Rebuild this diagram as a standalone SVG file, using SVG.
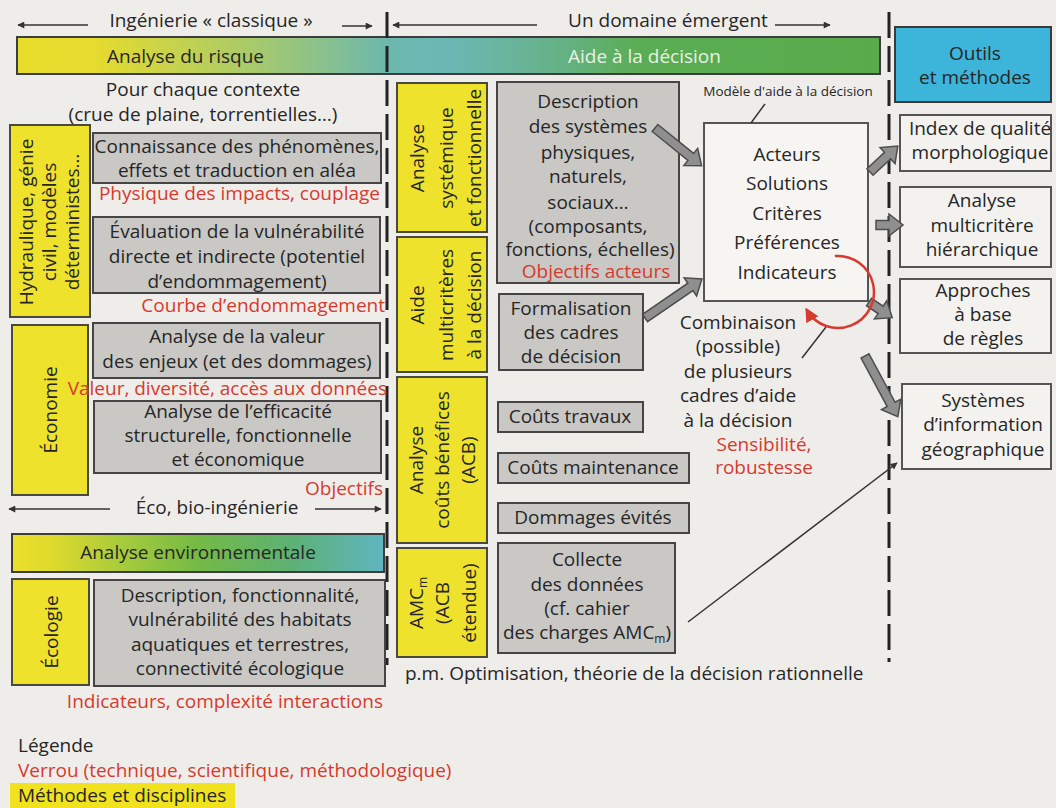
<svg xmlns="http://www.w3.org/2000/svg" width="1056" height="808" viewBox="0 0 1056 808">
<defs>
<style>
text{font-family:"Open Sans","Noto Sans","Liberation Sans",sans-serif;font-size:19px;font-weight:500;fill:#262626}
.c{text-anchor:middle}
.e{text-anchor:end}
.r{fill:#d63a2e}
.sm{font-size:13.5px}
.y{fill:#eee22c;stroke:#4a4a3c;stroke-width:2}
.g{fill:#c9c8c5;stroke:#454545;stroke-width:2}
.w{fill:#f4f2ef;stroke:#555;stroke-width:2}
.dash{stroke:#222;stroke-width:3;stroke-dasharray:26 8;fill:none}
.thin{stroke:#333;stroke-width:1.5;fill:none}
.blk{fill:#8f8f8f;stroke:#4d4d4d;stroke-width:1.5;stroke-linejoin:miter}
</style>
<marker id="ah" viewBox="0 0 10 10" refX="9" refY="5" markerWidth="9" markerHeight="7" markerUnits="userSpaceOnUse" orient="auto">
<path d="M0,0 L10,5 L0,10 z" fill="#333"/>
</marker>
<marker id="ahr" viewBox="0 0 10 10" refX="8" refY="5" markerWidth="14" markerHeight="14" markerUnits="userSpaceOnUse" orient="auto">
<path d="M0,0 L10,5 L0,10 z" fill="#d63a2e"/>
</marker>
<linearGradient id="gTop" x1="17" y1="0" x2="880" y2="0" gradientUnits="userSpaceOnUse">
<stop offset="0" stop-color="#e8dc2c"/>
<stop offset="0.09" stop-color="#e6db2e"/>
<stop offset="0.27" stop-color="#a9ca6a"/>
<stop offset="0.43" stop-color="#6db8ad"/>
<stop offset="0.5" stop-color="#6cb7b5"/>
<stop offset="0.62" stop-color="#66b28b"/>
<stop offset="0.72" stop-color="#5bad55"/>
<stop offset="1" stop-color="#58aa4a"/>
</linearGradient>
<linearGradient id="gEnv" x1="12" y1="0" x2="384" y2="0" gradientUnits="userSpaceOnUse">
<stop offset="0" stop-color="#ece02a"/>
<stop offset="0.1" stop-color="#e0da2c"/>
<stop offset="0.3" stop-color="#a6cb3c"/>
<stop offset="0.5" stop-color="#74ba45"/>
<stop offset="0.75" stop-color="#5db174"/>
<stop offset="1" stop-color="#60b5c0"/>
</linearGradient>
</defs>
<rect x="0" y="0" width="1056" height="808" fill="#efedea"/>

<!-- header -->
<g id="header">
<line class="thin" x1="88" y1="25" x2="18" y2="25" marker-end="url(#ah)"/>
<text class="c" x="211" y="27">Ingénierie « classique »</text>
<line class="thin" x1="342" y1="26" x2="372" y2="26" marker-end="url(#ah)"/>
<line class="thin" x1="537" y1="25" x2="393" y2="25" marker-end="url(#ah)"/>
<text class="c" x="668" y="27">Un domaine émergent</text>
<line class="thin" x1="775" y1="25" x2="830" y2="25" marker-end="url(#ah)"/>
</g>

<g id="bar-top">
<rect x="17" y="37" width="863" height="37" fill="url(#gTop)" stroke="#3d3d3d" stroke-width="2"/>
<text x="107" y="63">Analyse du risque</text>
<text x="568" y="63" style="fill:#e9f1e4">Aide à la décision</text>
</g>

<g id="outils">
<rect x="895" y="27" width="156" height="75" fill="#3db4da" stroke="#3a3a3a" stroke-width="2"/>
<text class="c" x="975" y="60">Outils</text>
<text class="c" x="975" y="84">et méthodes</text>
</g>

<g id="contexte">
<text class="c" x="203" y="96">Pour chaque contexte</text>
<text class="c" x="203" y="121">(crue de plaine, torrentielles…)</text>
</g>

<!-- dashed separators -->
<g id="separators">
<line class="dash" x1="387" y1="12" x2="387" y2="665"/>
<line class="dash" x1="889" y1="12" x2="889" y2="662"/>
</g>

<!-- left column -->
<g id="hydraulique">
<rect class="y" x="10" y="125" width="80" height="192"/>
<text class="c" transform="translate(33,222) rotate(-90)">Hydraulique, génie</text>
<text class="c" transform="translate(56,222) rotate(-90)">civil, modèles</text>
<text class="c" transform="translate(79,222) rotate(-90)">déterministes…</text>
</g>
<g id="connaissance">
<rect class="g" x="93" y="133" width="288" height="50"/>
<text class="c" x="237" y="153">Connaissance des phénomènes,</text>
<text class="c" x="237" y="177">effets et traduction en aléa</text>
</g>
<text class="r e" x="380" y="200">Physique des impacts, couplage</text>
<g id="evaluation">
<rect class="g" x="93" y="217" width="287" height="76"/>
<text class="c" x="237" y="238">Évaluation de la vulnérabilité</text>
<text class="c" x="237" y="263">directe et indirecte (potentiel</text>
<text class="c" x="237" y="288">d’endommagement)</text>
</g>
<text class="r e" x="385" y="312">Courbe d’endommagement</text>
<g id="economie">
<rect class="y" x="12" y="325" width="76" height="170"/>
<text class="c" transform="translate(57,410) rotate(-90)">Économie</text>
</g>
<g id="valeur">
<rect class="g" x="93" y="323" width="287" height="55"/>
<text class="c" x="237" y="343">Analyse de la valeur</text>
<text class="c" x="237" y="368">des enjeux (et des dommages)</text>
</g>
<text class="r e" x="387" y="395">Valeur, diversité, accès aux données</text>
<g id="efficacite">
<rect class="g" x="94" y="401" width="287" height="72"/>
<text class="c" x="238" y="418">Analyse de l’efficacité</text>
<text class="c" x="238" y="442">structurelle, fonctionnelle</text>
<text class="c" x="238" y="466">et économique</text>
</g>
<text class="r e" x="383" y="495">Objectifs</text>
<g id="eco-bio">
<line class="thin" x1="110" y1="509" x2="9" y2="509" marker-end="url(#ah)"/>
<text class="c" x="217" y="514">Éco, bio-ingénierie</text>
<line class="thin" x1="315" y1="509" x2="381" y2="509" marker-end="url(#ah)"/>
</g>
<g id="bar-env">
<rect x="12" y="534" width="372" height="38" fill="url(#gEnv)" stroke="#3d3d3d" stroke-width="2"/>
<text class="c" x="198" y="559">Analyse environnementale</text>
</g>
<g id="ecologie">
<rect class="y" x="12" y="579" width="77" height="106"/>
<text class="c" transform="translate(58,632) rotate(-90)">Écologie</text>
</g>
<g id="habitats">
<rect class="g" x="94" y="580" width="291" height="106"/>
<text class="c" x="240" y="602">Description, fonctionnalité,</text>
<text class="c" x="240" y="626">vulnérabilité des habitats</text>
<text class="c" x="240" y="651">aquatiques et terrestres,</text>
<text class="c" x="240" y="675">connectivité écologique</text>
</g>
<text class="r e" x="383" y="708">Indicateurs, complexité interactions</text>

<!-- middle column -->
<g id="systemique">
<rect class="y" x="397" y="83" width="90" height="149"/>
<text class="c" transform="translate(424,158) rotate(-90)">Analyse</text>
<text class="c" transform="translate(453,158) rotate(-90)">systémique</text>
<text class="c" transform="translate(481,158) rotate(-90)">et fonctionnelle</text>
</g>
<g id="multicriteres">
<rect class="y" x="397" y="237" width="90" height="135"/>
<text class="c" transform="translate(424,305) rotate(-90)">Aide</text>
<text class="c" transform="translate(453,305) rotate(-90)">multicritères</text>
<text class="c" transform="translate(481,305) rotate(-90)">à la décision</text>
</g>
<g id="acb">
<rect class="y" x="397" y="377" width="90" height="166"/>
<text class="c" transform="translate(423,460) rotate(-90)">Analyse</text>
<text class="c" transform="translate(449,460) rotate(-90)">coûts bénéfices</text>
<text class="c" transform="translate(475,460) rotate(-90)">(ACB)</text>
</g>
<g id="amcm">
<rect class="y" x="397" y="548" width="90" height="109"/>
<text class="c" transform="translate(423,603) rotate(-90)">AMC<tspan font-size="12" dy="4" fill="#262626">m</tspan></text>
<text class="c" transform="translate(449,603) rotate(-90)">(ACB</text>
<text class="c" transform="translate(476,603) rotate(-90)">étendue)</text>
</g>
<g id="description">
<rect class="g" x="497" y="82" width="182" height="201"/>
<text class="c" x="588" y="108">Description</text>
<text class="c" x="588" y="133">des systèmes</text>
<text class="c" x="588" y="159">physiques,</text>
<text class="c" x="588" y="183">naturels,</text>
<text class="c" x="588" y="209">sociaux…</text>
<text class="c" x="588" y="233">(composants,</text>
<text class="c" x="590" y="256">fonctions, échelles)</text>
<text class="c r" x="596" y="278">Objectifs acteurs</text>
</g>
<g id="formalisation">
<rect class="g" x="499" y="294" width="144" height="76"/>
<text class="c" x="571" y="315">Formalisation</text>
<text class="c" x="571" y="339">des cadres</text>
<text class="c" x="571" y="363">de décision</text>
</g>
<g id="couts-travaux">
<rect class="g" x="498" y="402" width="145" height="30"/>
<text class="c" x="570" y="423">Coûts travaux</text>
</g>
<g id="couts-maintenance">
<rect class="g" x="498" y="453" width="191" height="30"/>
<text class="c" x="593" y="474">Coûts maintenance</text>
</g>
<g id="dommages">
<rect class="g" x="498" y="503" width="191" height="30"/>
<text class="c" x="593" y="524">Dommages évités</text>
</g>
<g id="collecte">
<rect class="g" x="498" y="543" width="177" height="110"/>
<text class="c" x="587" y="566">Collecte</text>
<text class="c" x="587" y="591">des données</text>
<text class="c" x="587" y="615">(cf. cahier</text>
<text class="c" x="587" y="639">des charges AMC<tspan font-size="12" dy="4" fill="#262626">m</tspan><tspan dy="-4">)</tspan></text>
</g>
<text x="405" y="680">p.m. Optimisation, théorie de la décision rationnelle</text>

<!-- decision model -->
<g id="modele">
<text class="c sm" x="788" y="96">Modèle d'aide à la décision</text>
<rect x="704" y="123" width="164" height="178" fill="#f6f5f2" stroke="#555" stroke-width="2"/>
<text class="c" x="787" y="161">Acteurs</text>
<text class="c" x="787" y="190">Solutions</text>
<text class="c" x="787" y="220">Critères</text>
<text class="c" x="787" y="249">Préférences</text>
<text class="c" x="787" y="279">Indicateurs</text>
</g>
<g id="combinaison">
<text class="c" x="738" y="329">Combinaison</text>
<text class="c" x="738" y="353">(possible)</text>
<text class="c" x="738" y="378">de plusieurs</text>
<text class="c" x="738" y="402">cadres d’aide</text>
<text class="c" x="738" y="427">à la décision</text>
<text class="c r" x="764" y="451">Sensibilité,</text>
<text class="c r" x="764" y="474">robustesse</text>
</g>

<!-- right column -->
<g id="index">
<rect class="w" x="900" y="115" width="151" height="56"/>
<text class="c" x="980" y="135">Index de qualité</text>
<text class="c" x="980" y="159">morphologique</text>
</g>
<g id="multicritere-hier">
<rect class="w" x="900" y="187" width="151" height="80"/>
<text class="c" x="982" y="207">Analyse</text>
<text class="c" x="982" y="232">multicritère</text>
<text class="c" x="982" y="256">hiérarchique</text>
</g>
<g id="regles">
<rect class="w" x="900" y="279" width="151" height="74"/>
<text class="c" x="983" y="297">Approches</text>
<text class="c" x="983" y="321">à base</text>
<text class="c" x="983" y="345">de règles</text>
</g>
<g id="sig">
<rect class="w" x="902" y="384" width="149" height="85"/>
<text class="c" x="983" y="407">Systèmes</text>
<text class="c" x="983" y="431">d’information</text>
<text class="c" x="983" y="456">géographique</text>
</g>

<!-- connectors -->
<g id="connectors">
<line class="thin" x1="765" y1="104" x2="751" y2="123"/>
<polygon class="blk" transform="translate(655,128) rotate(39)" points="0,-4.5 46,-4.5 46,-11 60,0 46,11 46,4.5 0,4.5"/>
<polygon class="blk" transform="translate(645,318) rotate(-34.4)" points="0,-4.5 55,-4.5 55,-11 69,0 55,11 55,4.5 0,4.5"/>
<polygon class="blk" transform="translate(870,172) rotate(-43)" points="0,-4.5 24,-4.5 24,-11 38,0 24,11 24,4.5 0,4.5"/>
<polygon class="blk" transform="translate(876,225)" points="0,-4.5 13,-4.5 13,-11 27,0 13,11 13,4.5 0,4.5"/>
<polygon class="blk" transform="translate(869,302) rotate(34)" points="0,-4.5 14,-4.5 14,-11 28,0 14,11 14,4.5 0,4.5"/>
<polygon class="blk" transform="translate(865,356) rotate(61.6)" points="0,-4.5 55,-4.5 55,-11 69,0 55,11 55,4.5 0,4.5"/>
<path d="M834.9,256.1 A36,36 0 1 1 806.8,310" fill="none" stroke="#d63a2e" stroke-width="2.5" marker-end="url(#ahr)"/>
<line class="thin" x1="802" y1="358" x2="826" y2="327"/>
<line class="thin" x1="688" y1="622" x2="897" y2="463" marker-end="url(#ah)"/>
</g>

<!-- legend -->
<g id="legende">
<rect x="10" y="783" width="225" height="25" fill="#f0e21e"/>
<text x="18" y="752">Légende</text>
<text class="r" x="18" y="777">Verrou (technique, scientifique, méthodologique)</text>
<text x="18" y="802">Méthodes et disciplines</text>
</g>
</svg>
